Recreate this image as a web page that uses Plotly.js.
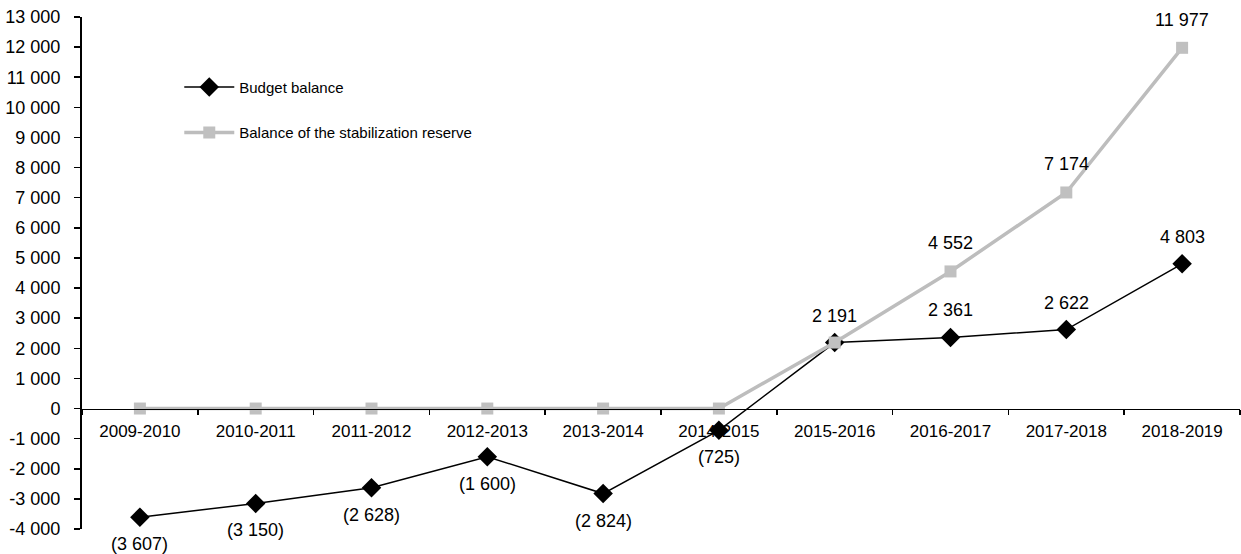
<!DOCTYPE html>
<html>
<head>
<meta charset="utf-8">
<script src="https://cdn.plot.ly/plotly-3.0.1.min.js"></script>
<style>
html,body{margin:0;padding:0;background:#fff;}
#chart{width:1241px;height:554px;}
</style>
</head>
<body>
<div id="chart"></div>
<script>
const categories = ["2009-2010","2010-2011","2011-2012","2012-2013","2013-2014","2014-2015","2015-2016","2016-2017","2017-2018","2018-2019"];
const budgetBalance = [-3607,-3150,-2628,-1600,-2824,-725,2191,2361,2622,4803];
const stabilizationReserve = [0,0,0,0,0,0,2191,4552,7174,11977];
const yTickVals = [-4000,-3000,-2000,-1000,0,1000,2000,3000,4000,5000,6000,7000,8000,9000,10000,11000,12000,13000];
const yTickText = ["-4 000","-3 000","-2 000","-1 000","0","1 000","2 000","3 000","4 000","5 000","6 000","7 000","8 000","9 000","10 000","11 000","12 000","13 000"];

const FONT = '"Liberation Sans", Arial, sans-serif';

function fmt(v){
  const s = Math.abs(v).toString().replace(/\B(?=(\d{3})+(?!\d))/g, ' ');
  return v < 0 ? '(' + s + ')' : s;
}

const annotations = [];
budgetBalance.forEach((v,i)=>{
  annotations.push({x: categories[i], y: v, xref:'x', yref:'y', text: fmt(v), showarrow:false,
    yshift: v < 0 ? -27 : 27, font:{family:FONT, size:18, color:'#000'}});
});
stabilizationReserve.forEach((v,i)=>{
  if (v > 0 && v !== budgetBalance[i]) {
    annotations.push({x: categories[i], y: v, xref:'x', yref:'y', text: fmt(v), showarrow:false,
      yshift: 28, font:{family:FONT, size:18, color:'#000'}});
  }
});

const traces = [
  {x: categories, y: budgetBalance, name: 'Budget balance', type:'scatter', mode:'lines+markers',
   line:{color:'#000', width:1.5}, marker:{symbol:'diamond', size:15, color:'#000'},
   legendgroup:'a'},
  {x: categories, y: stabilizationReserve, name: 'Balance of the stabilization reserve', type:'scatter', mode:'lines+markers',
   line:{color:'#BDBDBD', width:3.5}, marker:{symbol:'square', size:12, color:'#C0C0C0'},
   legendgroup:'b'}
];

const layout = {
  width:1241, height:554,
  margin:{l:82, r:1, t:17, b:25},
  paper_bgcolor:'#fff', plot_bgcolor:'#fff',
  font:{family:FONT, size:18, color:'#000'},
  showlegend:true,
  legend:{x:0.084, y:0.895, xanchor:'left', yanchor:'top', bgcolor:'rgba(0,0,0,0)',
    font:{family:FONT, size:15, color:'#000'}, tracegroupgap:23, itemwidth:50},
  xaxis:{type:'category', range:[-0.5,9.5], anchor:'free', position:4000/17000,
    showline:true, linecolor:'#000', linewidth:1.5, ticks:'outside', tickson:'boundaries',
    ticklen:5, tickcolor:'#000', tickwidth:1.5, showgrid:false, zeroline:false,
    ticklabelstandoff:7, tickfont:{family:FONT, size:17, color:'#000'}, fixedrange:true},
  yaxis:{range:[-4000,13000], tickvals:yTickVals, ticktext:yTickText,
    showline:true, linecolor:'#000', linewidth:2, ticks:'outside', ticklen:6, tickcolor:'#000', tickwidth:1.5,
    showgrid:false, zeroline:false, ticklabelstandoff:10, tickfont:{family:FONT, size:18, color:'#000'}},
  annotations: annotations
};

Plotly.newPlot('chart', traces, layout, {displayModeBar:false, staticPlot:true});
</script>
</body>
</html>
